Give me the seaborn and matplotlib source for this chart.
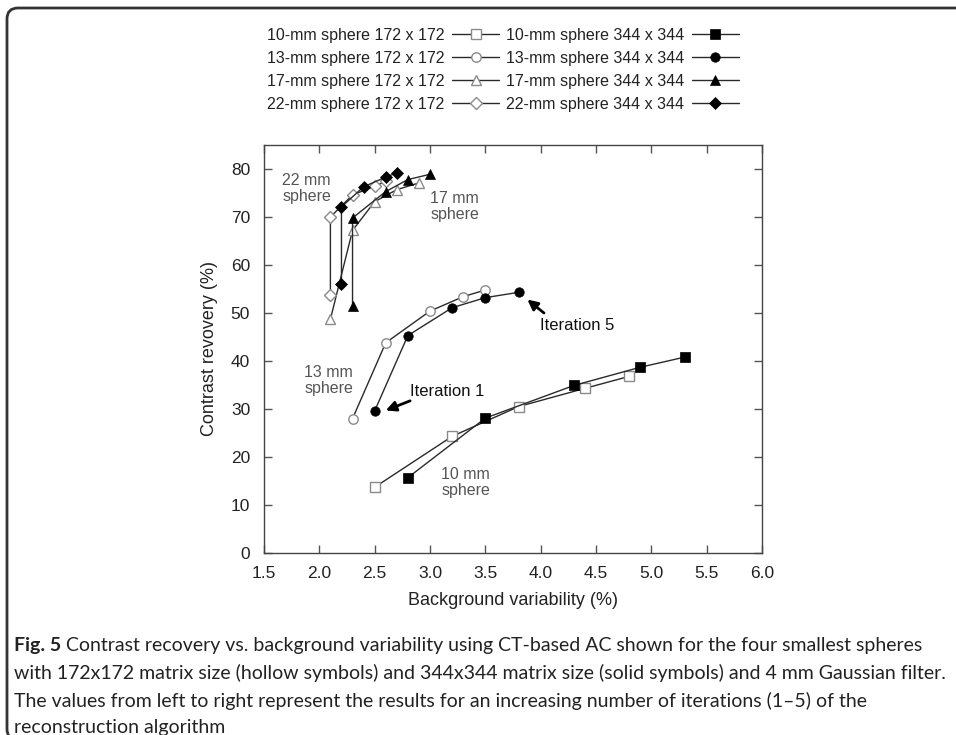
import matplotlib
matplotlib.use("Agg")
import matplotlib.pyplot as plt
import pandas as pd
import seaborn as sns
from matplotlib.patches import FancyBboxPatch
from matplotlib.transforms import IdentityTransform

# ---------------- data ----------------
iterations = [1, 2, 3, 4, 5]
bv_10_172 = [2.5, 3.2, 3.8, 4.4, 4.8]
cr_10_172 = [13.7, 24.3, 30.5, 34.3, 36.8]
bv_10_344 = [2.8, 3.5, 4.3, 4.9, 5.3]
cr_10_344 = [15.7, 28.1, 34.9, 38.7, 40.8]
bv_13_172 = [2.3, 2.6, 3.0, 3.3, 3.5]
cr_13_172 = [28.0, 43.8, 50.4, 53.4, 54.8]
bv_13_344 = [2.5, 2.8, 3.2, 3.5, 3.8]
cr_13_344 = [29.6, 45.3, 51.1, 53.2, 54.3]
bv_17_172 = [2.1, 2.3, 2.5, 2.7, 2.9]
cr_17_172 = [48.7, 67.2, 73.2, 75.7, 77.1]
bv_17_344 = [2.3, 2.3, 2.6, 2.8, 3.0]
cr_17_344 = [51.5, 69.8, 75.3, 77.8, 78.9]
bv_22_172 = [2.1, 2.1, 2.3, 2.5, 2.6]
cr_22_172 = [53.7, 70.0, 74.6, 76.4, 77.4]
bv_22_344 = [2.2, 2.2, 2.4, 2.6, 2.7]
cr_22_344 = [56.1, 72.1, 76.3, 78.3, 79.2]

series_labels = [
    "10-mm sphere 172 x 172", "13-mm sphere 172 x 172",
    "17-mm sphere 172 x 172", "22-mm sphere 172 x 172",
    "10-mm sphere 344 x 344", "13-mm sphere 344 x 344",
    "17-mm sphere 344 x 344", "22-mm sphere 344 x 344",
]
series_x = [bv_10_172, bv_13_172, bv_17_172, bv_22_172,
            bv_10_344, bv_13_344, bv_17_344, bv_22_344]
series_y = [cr_10_172, cr_13_172, cr_17_172, cr_22_172,
            cr_10_344, cr_13_344, cr_17_344, cr_22_344]
series_marker = ["s", "o", "^", "D", "s", "o", "^", "D"]
series_hollow = [True, True, True, True, False, False, False, False]

x_ticks = [1.5, 2.0, 2.5, 3.0, 3.5, 4.0, 4.5, 5.0, 5.5, 6.0]
y_ticks = [0, 10, 20, 30, 40, 50, 60, 70, 80]

sphere_notes = ["22 mm\nsphere", "17 mm\nsphere", "13 mm\nsphere", "10 mm\nsphere"]
sphere_note_x = [1.886, 3.224, 2.083, 3.324]
sphere_note_y = [76.0, 72.2, 35.9, 14.7]

iter_labels = ["Iteration 1", "Iteration 5"]
iter_text_xy = [(2.82, 33.6), (3.99, 47.4)]
iter_arrow_tail = [(2.82, 31.7), (4.03, 50.0)]
iter_arrow_tip = [(2.60, 29.7), (3.88, 52.8)]

caption_bold = "Fig. 5"
caption_lines = [
    " Contrast recovery vs. background variability using CT-based AC shown for the four smallest spheres",
    "with 172x172 matrix size (hollow symbols) and 344x344 matrix size (solid symbols) and 4 mm Gaussian filter.",
    "The values from left to right represent the results for an increasing number of iterations (1\u20135) of the",
    "reconstruction algorithm",
]

# ---------------- style ----------------
sns.set_style("ticks")
plt.rcParams["font.family"] = ["Liberation Sans", "DejaVu Sans"]
plt.rcParams["text.color"] = "#222222"
plt.rcParams["axes.labelcolor"] = "#222222"
plt.rcParams["xtick.color"] = "#555555"
plt.rcParams["ytick.color"] = "#555555"
plt.rcParams["xtick.labelcolor"] = "#222222"
plt.rcParams["ytick.labelcolor"] = "#222222"

W, H = 956, 735
fig = plt.figure(figsize=(W / 100, H / 100), dpi=100)
ax = fig.add_axes([264 / W, 1 - 553 / H, (762 - 264) / W, (553 - 145) / H])

for lab, xs, ys, mk, hollow in zip(series_labels, series_x, series_y,
                                   series_marker, series_hollow):
    df = pd.DataFrame({"bv": xs, "cr": ys, "it": iterations})
    ms = {"s": 6.8, "o": 6.8, "^": 7.2, "D": 6.3}[mk]
    if hollow:
        sns.lineplot(data=df, x="bv", y="cr", ax=ax, sort=False, estimator=None,
                     color="#2a2a2a", linewidth=1.0, marker=mk, markersize=ms,
                     markerfacecolor="white", markeredgecolor="#8a8a8a",
                     markeredgewidth=1.0, label=lab)
    else:
        sns.lineplot(data=df, x="bv", y="cr", ax=ax, sort=False, estimator=None,
                     color="#2a2a2a", linewidth=1.0, marker=mk, markersize=ms,
                     markerfacecolor="black", markeredgecolor="black",
                     markeredgewidth=0.5, label=lab)

ax.set_xlim(1.5, 6.0)
ax.set_ylim(0, 85)
ax.set_xticks(x_ticks)
ax.set_xticklabels([f"{v:.1f}" for v in x_ticks])
ax.set_yticks(y_ticks)
ax.set_yticklabels([str(v) for v in y_ticks])
ax.tick_params(direction="in", top=True, right=True, length=6, width=1.0,
               labelsize=12.5)
ax.tick_params(axis="x", pad=9)
ax.tick_params(axis="y", pad=10)
for s in ax.spines.values():
    s.set_visible(True)
    s.set_color("#444444")
    s.set_linewidth(1.0)
ax.set_xlabel("Background variability (%)", fontsize=13, labelpad=8)
ax.set_ylabel("Contrast revovery (%)", fontsize=13, labelpad=9)

for t, x, y in zip(sphere_notes, sphere_note_x, sphere_note_y):
    ax.text(x, y, t, fontsize=11.5, color="#555555", ha="center", va="center",
            linespacing=1.1)

for lab, txy, tail, tip in zip(iter_labels, iter_text_xy, iter_arrow_tail,
                               iter_arrow_tip):
    ax.text(txy[0], txy[1], lab, fontsize=12, va="center", ha="left",
            color="#111111")
    ax.annotate("", xy=tip, xytext=tail,
                arrowprops=dict(arrowstyle="-|>", color="black", lw=2.0,
                                mutation_scale=15, shrinkA=0, shrinkB=0))

handles, labels = ax.get_legend_handles_labels()
ax.legend(handles, labels, ncol=2, markerfirst=False, frameon=False,
          loc="upper left", bbox_to_anchor=(267 / W, 1 - 28 / H),
          bbox_transform=fig.transFigure, fontsize=11.5, handlelength=2.9,
          handletextpad=0.5, columnspacing=0.45, labelspacing=0.5,
          borderaxespad=0, borderpad=0)

# frame around the figure panel (rounded left corners, bottom edge off-canvas)
box = FancyBboxPatch((7, -5), 980, 732, boxstyle="round,pad=0,rounding_size=11",
                     transform=IdentityTransform(), fill=False,
                     edgecolor="#333333", linewidth=2.0, clip_on=False)
fig.patches.append(box)

# caption
cap_font = ["Lato", "DejaVu Sans"]
cap_fs = 14.0
line_base = [651, 679, 707, 733]
tb = fig.text(14 / W, 1 - line_base[0] / H, caption_bold, fontsize=cap_fs,
              fontweight="bold", family=cap_font, va="baseline", ha="left",
              color="#222222")
fig.canvas.draw()
r = fig.canvas.get_renderer()
bb = tb.get_window_extent(r)
first_x = bb.x1 / W
for i, line in enumerate(caption_lines):
    x0 = first_x if i == 0 else 14 / W
    fig.text(x0, 1 - line_base[i] / H, line, fontsize=cap_fs, family=cap_font,
             va="baseline", ha="left", color="#222222")

fig.savefig("out.png", dpi=100)
